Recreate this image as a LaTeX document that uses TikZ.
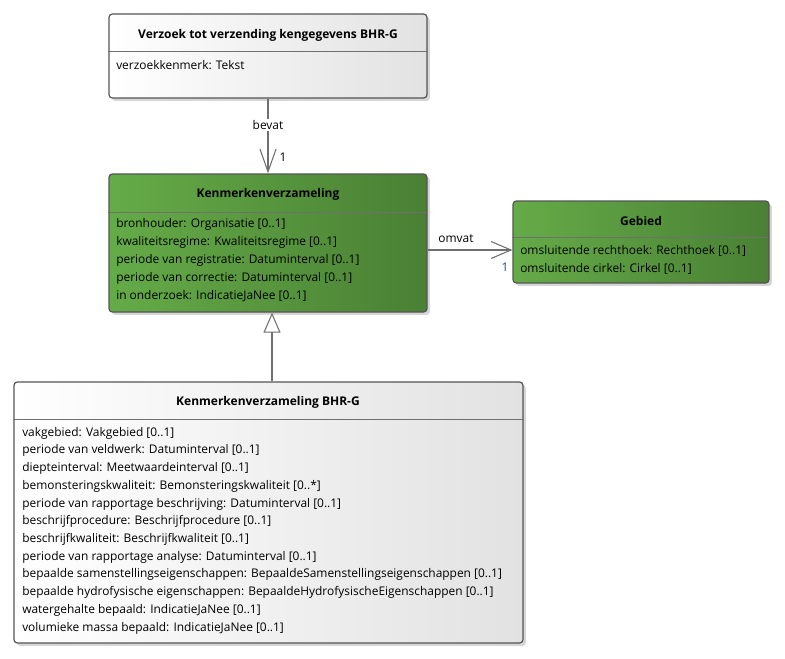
\documentclass[tikz,border=0pt]{standalone}
\usepackage{fontspec}
\setmainfont{Open Sans}
\usetikzlibrary{arrows.meta}
\definecolor{bordergray}{RGB}{85,85,85}
\definecolor{linegray}{RGB}{112,112,112}
\definecolor{greenL}{RGB}{101,171,72}
\definecolor{greenR}{RGB}{74,128,52}
\definecolor{whiteR}{RGB}{226,226,226}
\definecolor{multblue}{RGB}{10,80,160}
\begin{document}
\begin{tikzpicture}[x=0.75pt,y=-0.75pt,
  font=\fontsize{8.95}{10}\selectfont,
  boxbase/.style={draw=bordergray, line width=0.9pt, rounded corners=2.5pt, inner sep=0pt,
    preaction={fill=black!16, rounded corners=2.5pt, transform canvas={xshift=2.2pt,yshift=-2.2pt}}},
  wbox/.style={boxbase, left color=white, right color=whiteR},
  gbox/.style={boxbase, left color=greenL, right color=greenR},
  sepline/.style={draw=linegray, line width=0.75pt},
  cls/.style={font=\fontsize{9}{10}\selectfont\bfseries, inner sep=0pt},
  attr/.style={anchor=west, inner sep=0pt},
  assoc/.style={draw=linegray, line width=0.8pt},
  lbl/.style={inner sep=1pt}
]
\useasboundingbox (0,0) rectangle (785,658);

% Box 1
\node[wbox, minimum width=238.5pt, minimum height=63pt] (v) at (268,56) {};
\draw[sepline] (v.west |- 0,51) -- (v.east |- 0,51);
\node[cls] (vt) at (268,35) {Verzoek tot verzending kengegevens BHR-G};
\node[attr] (v1) at (116,65) {verzoekkenmerk: Tekst};

% Box 2
\node[gbox, minimum width=238.5pt, minimum height=103.5pt] (k) at (268,243) {};
\draw[sepline] (k.west |- 0,212) -- (k.east |- 0,212);
\node[cls] (kt) at (268,194) {Kenmerkenverzameling};
\node[attr] (k1) at (116,224) {bronhouder: Organisatie [0..1]};
\node[attr] (k2) at (116,242) {kwaliteitsregime: Kwaliteitsregime [0..1]};
\node[attr] (k3) at (116,260) {periode van registratie: Datuminterval [0..1]};
\node[attr] (k4) at (116,278) {periode van correctie: Datuminterval [0..1]};
\node[attr] (k5) at (116,296) {in onderzoek: IndicatieJaNee [0..1]};

% Box 3
\node[gbox, minimum width=192pt, minimum height=61.5pt] (g) at (641,242) {};
\draw[sepline] (g.west |- 0,237) -- (g.east |- 0,237);
\node[cls] (gt) at (641,221) {Gebied};
\node[attr] (g1) at (520,251) {omsluitende rechthoek: Rechthoek [0..1]};
\node[attr] (g2) at (520,269) {omsluitende cirkel: Cirkel [0..1]};

% Box 4
\node[wbox, minimum width=381.75pt, minimum height=195.75pt] (b) at (268.5,512.5) {};
\draw[sepline] (b.west |- 0,419) -- (b.east |- 0,419);
\node[cls] (bt) at (268,402) {Kenmerkenverzameling BHR-G};
\node[attr] (b1) at (22,433) {vakgebied: Vakgebied [0..1]};
\node[attr] (b2) at (22,450.7) {periode van veldwerk: Datuminterval [0..1]};
\node[attr] (b3) at (22,468.5) {diepteinterval: Meetwaardeinterval [0..1]};
\node[attr] (b4) at (22,486.2) {bemonsteringskwaliteit: Bemonsteringskwaliteit [0..*]};
\node[attr] (b5) at (22,503.9) {periode van rapportage beschrijving: Datuminterval [0..1]};
\node[attr] (b6) at (22,521.6) {beschrijfprocedure: Beschrijfprocedure [0..1]};
\node[attr] (b7) at (22,539.4) {beschrijfkwaliteit: Beschrijfkwaliteit [0..1]};
\node[attr] (b8) at (22,557.1) {periode van rapportage analyse: Datuminterval [0..1]};
\node[attr] (b9) at (22,574.8) {bepaalde samenstellingseigenschappen: BepaaldeSamenstellingseigenschappen [0..1]};
\node[attr] (b10) at (22,592.5) {bepaalde hydrofysische eigenschappen: BepaaldeHydrofysischeEigenschappen [0..1]};
\node[attr] (b11) at (22,610.3) {watergehalte bepaald: IndicatieJaNee [0..1]};
\node[attr] (b12) at (22,628) {volumieke massa bepaald: IndicatieJaNee [0..1]};

% bevat
\draw[assoc, -{Straight Barb[length=17pt,width=12pt,line width=0.8pt]}] (v.south) -- (k.north)
  node[pos=0.355, fill=white, lbl] (bevat) {bevat};
\node[lbl] (m1) at (283,157) {1};

% omvat
\coordinate (om) at (0,250);
\draw[assoc, -{Straight Barb[length=15pt,width=12.75pt,line width=0.8pt]}] (k.east |- om) -- (g.west |- om);
\node[lbl] (omvat) at (456,239) {omvat};
\node[lbl, text=multblue] (m2) at (505,267) {1};

% generalization
\coordinate (gx) at (272,0);
\draw[assoc, -{Triangle[open,length=15pt,width=12.75pt,fill=white,line width=0.8pt]}] (b.north -| gx) -- (k.south -| gx);
\end{tikzpicture}
\end{document}
